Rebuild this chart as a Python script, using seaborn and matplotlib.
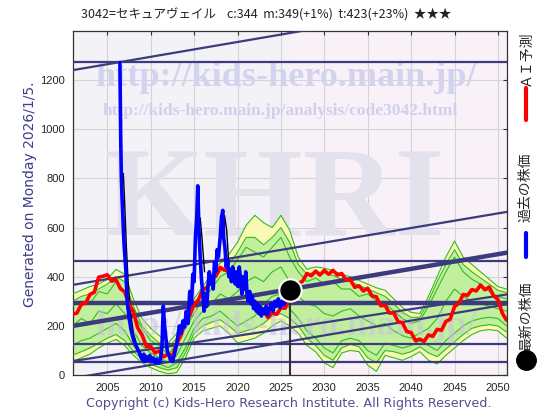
import numpy as np
import matplotlib
matplotlib.use("Agg")
import matplotlib.pyplot as plt
from matplotlib.lines import Line2D
import seaborn as sns

# ---- text
title_text = "3042=セキュアヴェイル    c:344  m:349(+1%)  t:423(+23%)  ★★★"
generated_text = "Generated on Monday 2026/1/5."
copyright_text = "Copyright (c) Kids-Hero Research Institute. All Rights Reserved."
url_big = "http://kids-hero.main.jp/"
url_small = "http://kids-hero.main.jp/analysis/code3042.html"
legend_labels = ["ＡＩ予測", "過去の株価", "最新の株価"]

# ---- AI forecast (red), half-year steps 2001..2051
red_years = np.arange(2001.0, 2051.01, 0.5)
red_vals = [248, 252, 288, 292, 328, 337, 398, 402, 408, 382,
            388, 352, 338, 287, 258, 192, 163, 117, 116, 90,
            98, 74, 86, 77, 128, 162, 223, 242, 288, 307,
            348, 357, 398, 402, 438, 427, 423, 387, 388, 352,
            348, 307, 298, 262, 263, 234, 253, 247, 273, 272,
            313, 327, 373, 382, 413, 404, 423, 407, 426, 410,
            426, 407, 413, 387, 388, 357, 363, 342, 353, 322,
            318, 282, 283, 252, 253, 217, 213, 177, 173, 140,
            146, 137, 163, 157, 186, 182, 218, 227, 278, 292,
            328, 324, 348, 342, 366, 347, 358, 322, 308, 252, 223]

# ---- past prices (blue)
blue_years = [2006.45, 2006.55, 2006.62, 2006.70, 2006.80, 2006.85, 2006.95, 2007.05, 2007.15, 2007.25,
              2007.35, 2007.5, 2007.7, 2007.9, 2008.1, 2008.3, 2008.5, 2008.7, 2008.9, 2009.1,
              2009.2, 2009.35, 2009.5, 2009.7, 2009.9, 2010.1, 2010.3, 2010.5, 2010.7, 2010.9,
              2011.1, 2011.3, 2011.45, 2011.6, 2011.75, 2011.9, 2012.1, 2012.3, 2012.5, 2012.7,
              2012.9, 2013.1, 2013.3, 2013.5, 2013.7, 2013.9, 2014.1, 2014.3, 2014.5, 2014.7,
              2014.85, 2015.0, 2015.15, 2015.3, 2015.42, 2015.55, 2015.7, 2015.85, 2016.0, 2016.15,
              2016.3, 2016.45, 2016.6, 2016.75, 2016.9, 2017.05, 2017.2, 2017.35, 2017.5, 2017.65,
              2017.8, 2018.0, 2018.15, 2018.3, 2018.4, 2018.55, 2018.7, 2018.85, 2019.0, 2019.15,
              2019.3, 2019.45, 2019.6, 2019.75, 2019.9, 2020.05, 2020.2, 2020.35, 2020.5, 2020.65,
              2020.8, 2020.95, 2021.1, 2021.25, 2021.4, 2021.55, 2021.7, 2021.85, 2022.0, 2022.15,
              2022.3, 2022.45, 2022.6, 2022.75, 2022.9, 2023.1, 2023.3, 2023.5, 2023.7, 2023.9,
              2024.1, 2024.3, 2024.5, 2024.7, 2024.9, 2025.1, 2025.3, 2025.5]
blue_vals = [1272, 950, 800, 720, 640, 590, 520, 470, 420, 330,
             280, 240, 190, 160, 135, 120, 105, 90, 70, 60,
             85, 55, 75, 60, 80, 55, 70, 50, 65, 48,
             55, 120, 280, 200, 150, 100, 80, 60, 55, 80,
             110, 150, 200, 170, 220, 195, 260, 210, 340, 290,
             410, 380, 560, 640, 770, 600, 480, 390, 330, 260,
             330, 280, 360, 420, 370, 400, 350, 460, 420, 510,
             480, 560, 640, 670, 560, 520, 440, 470, 400, 430,
             380, 440, 410, 370, 420, 360, 440, 390, 330, 400,
             350, 420, 330, 300, 340, 290, 320, 270, 300, 260,
             290, 250, 280, 240, 270, 250, 280, 245, 270, 290,
             260, 300, 280, 310, 275, 300, 285, 300]

# ---- thin black reference line (three short visible pieces)
black_seg = [0, 0, 0, 0, 0, 0, 0, 0, 1, 1, 1, 1, 2, 2, 2, 2]
black_years = [2006.85, 2007.0, 2007.2, 2007.4, 2007.7, 2008.0, 2008.5, 2009.0,
               2015.5, 2015.7, 2015.9, 2016.2, 2018.3, 2018.5, 2018.75, 2019.0]
black_vals = [820, 700, 520, 380, 250, 170, 110, 80,
              600, 640, 560, 420, 600, 650, 590, 450]

# ---- scenario band (yellow envelope, green inner band, green paths), yearly
band_years = np.arange(2001, 2052)
yellow_hi = [330, 345, 360, 370, 390, 430, 410, 310, 230, 190,
             160, 130, 170, 230, 310, 360, 410, 455, 490, 540,
             610, 650, 620, 600, 650, 590, 480, 430, 440, 435,
             425, 410, 400, 385, 370, 355, 345, 310, 275, 255,
             250, 320, 400, 480, 545, 480, 450, 420, 390, 360, 350]
yellow_lo = [55, 70, 85, 110, 130, 145, 120, 80, 50, 30,
             15, 5, 10, 70, 150, 180, 190, 200, 170, 130,
             140, 150, 170, 200, 220, 200, 170, 120, 95, 50,
             30, 90, 100, 95, 40, 15, 80, 70, 60, 75,
             95, 60, 45, 80, 110, 140, 165, 180, 185, 180, 150]
green_hi = [300, 320, 330, 350, 370, 400, 380, 280, 200, 160,
            130, 110, 150, 210, 280, 330, 380, 420, 450, 500,
            560, 560, 530, 560, 600, 540, 450, 410, 420, 415,
            405, 390, 380, 365, 350, 335, 320, 290, 255, 235,
            235, 300, 380, 450, 510, 450, 420, 395, 370, 345, 335]
green_lo = [80, 95, 110, 130, 150, 165, 140, 95, 65, 45,
            30, 20, 30, 90, 170, 200, 215, 225, 200, 170,
            180, 190, 210, 240, 250, 230, 200, 150, 120, 80,
            60, 110, 125, 115, 70, 50, 100, 95, 85, 95,
            115, 90, 75, 105, 135, 165, 190, 200, 205, 200, 175]
green_path1 = [280, 300, 290, 340, 330, 380, 340, 250, 190, 140,
               120, 80, 130, 190, 250, 310, 350, 400, 420, 470,
               520, 500, 480, 520, 560, 480, 420, 380, 395, 370,
               380, 350, 350, 320, 330, 300, 290, 260, 230, 210,
               220, 280, 350, 420, 480, 420, 390, 370, 340, 320, 310]
green_path2 = [200, 230, 210, 260, 250, 290, 250, 180, 120, 90,
               70, 50, 80, 150, 220, 260, 290, 330, 310, 340,
               380, 400, 380, 420, 440, 380, 320, 290, 280, 250,
               240, 260, 270, 240, 220, 200, 210, 180, 160, 150,
               170, 190, 230, 300, 350, 320, 300, 290, 280, 270, 260]
green_path3 = [120, 140, 150, 170, 190, 210, 180, 120, 80, 60,
               45, 30, 50, 110, 190, 230, 240, 260, 230, 200,
               220, 240, 290, 320, 330, 270, 230, 180, 150, 110,
               90, 140, 150, 140, 100, 80, 130, 120, 110, 120,
               140, 120, 100, 140, 170, 200, 220, 230, 235, 230, 200]

# ---- support / resistance lines
hlines_vals = [1275, 464, 294, 125, 54]
hlines_thick = [False, False, True, False, False]
slope_start = [(2001.05, 1241), (2001.05, 367), (2001.05, 200), (2001.05, 57), (2001.05, -13)]
slope_end = [(2051.05, 1543), (2051.05, 664), (2051.05, 498), (2051.05, 328), (2051.05, 288)]
slope_thick = [False, False, True, False, False]

latest_year = 2026.0
latest_price = 344

# ---- colours
navy = '#3b3b7d'
yellow = '#f9f9b4'
lightgreen = '#c2ef9e'
green = '#33bb22'

sns.set_style("white")
plt.rcParams['font.family'] = ['Noto Sans CJK JP', 'DejaVu Sans']

fig = plt.figure(figsize=(5.6, 4.2), dpi=100)
ax = fig.add_axes([0.1304, 0.1071, 0.7750, 0.819])
ax.set_xlim(2001.05, 2051.05)
ax.set_ylim(0, 1400)

ax.axvspan(2001.05, latest_year, color='#f3f2f7', zorder=0, lw=0)
ax.axvspan(latest_year, 2051.05, color='#f8f1f7', zorder=0, lw=0)

ax.set_xticks(range(2005, 2051, 5))
ax.set_yticks(range(0, 1201, 200))
ax.grid(True, color='#d4d4d4', lw=0.8, zorder=0.5)
ax.set_axisbelow(True)

# watermarks
ax.text(0.491, 0.866, url_big, transform=ax.transAxes, ha='center', va='center',
        family='Liberation Serif', fontweight='bold', fontsize=26, color='#d3d3f0', zorder=1)
ax.text(0.477, 0.767, url_small, transform=ax.transAxes, ha='center', va='center',
        family='Liberation Serif', fontweight='bold', fontsize=12.5, color='#d0d0ee', zorder=1)
ax.text(0.465, 0.494, "KHRI", transform=ax.transAxes, ha='center', va='center',
        family='Liberation Serif', fontweight='bold', fontsize=92, color='#e3e2ec', zorder=1)

# scenario band
ax.fill_between(band_years, yellow_lo, yellow_hi, color=yellow, lw=0, zorder=2)
ax.fill_between(band_years, green_lo, green_hi, color=lightgreen, lw=0, zorder=2.1)
for ys in [yellow_hi, yellow_lo, green_hi, green_lo, green_path1, green_path2, green_path3]:
    sns.lineplot(x=band_years, y=ys, ax=ax, color=green, lw=0.8, zorder=3)

ax.text(0.491, 0.140, url_big, transform=ax.transAxes, ha='center', va='center',
        family='Liberation Serif', fontweight='bold', fontsize=26, color='#c4c4dc',
        alpha=0.55, zorder=3.2)

# support / resistance
for v, thick in zip(hlines_vals, hlines_thick):
    ax.axhline(v, color=navy, lw=3.2 if thick else 1.6, zorder=4)
for (x0, y0), (x1, y1), thick in zip(slope_start, slope_end, slope_thick):
    ax.plot([x0, x1], [y0, y1], color=navy, lw=3.2 if thick else 1.6, zorder=4)

sns.lineplot(x=black_years, y=black_vals, units=black_seg, estimator=None, ax=ax,
             color='black', lw=1.0, zorder=4.5)
sns.lineplot(x=red_years, y=red_vals, ax=ax, color='#ff0000', lw=2.6, zorder=5)
sns.lineplot(x=blue_years, y=blue_vals, ax=ax, color='#0000ff', lw=2.6, zorder=6)

ax.plot([latest_year, latest_year], [0, latest_price], color='#333333', lw=1.5, zorder=6.5)
sns.scatterplot(x=[latest_year], y=[latest_price], ax=ax, s=260, color='black',
                edgecolor='white', linewidth=1.5, zorder=7)

for sp in ax.spines.values():
    sp.set_color('#333333')
    sp.set_linewidth(0.9)
ax.tick_params(axis='both', direction='in', length=3, width=0.8, color='#333333',
               labelsize=8, pad=6, top=True, right=True)
for lab in ax.get_xticklabels() + ax.get_yticklabels():
    lab.set_family('Liberation Sans')
ax.set_xlabel('')
ax.set_ylabel('')

# figure texts
fig.text(0.475, 0.964, title_text, ha='center', va='center', fontsize=9, color='#222222')
fig.text(0.054, 0.538, generated_text, rotation=90, ha='center', va='center',
         family='DejaVu Sans', fontsize=10, color='#3c3c8c')
fig.text(0.516, 0.040, copyright_text, ha='center', va='center',
         family='DejaVu Sans', fontsize=9.2, color='#505090')

# side legend
fig.text(0.939, 0.862, legend_labels[0], rotation=90, ha='center', va='center', fontsize=10)
fig.add_artist(Line2D([0.939, 0.939], [0.714, 0.790], color='#ff0000', lw=3))
fig.text(0.939, 0.555, legend_labels[1], rotation=90, ha='center', va='center', fontsize=10)
fig.add_artist(Line2D([0.939, 0.939], [0.388, 0.445], color='#0000ff', lw=3))
fig.text(0.939, 0.248, legend_labels[2], rotation=90, ha='center', va='center', fontsize=10)
fig.add_artist(Line2D([0.939], [0.143], marker='o', markersize=14, color='black', lw=0))

fig.savefig('out.png', dpi=100)
